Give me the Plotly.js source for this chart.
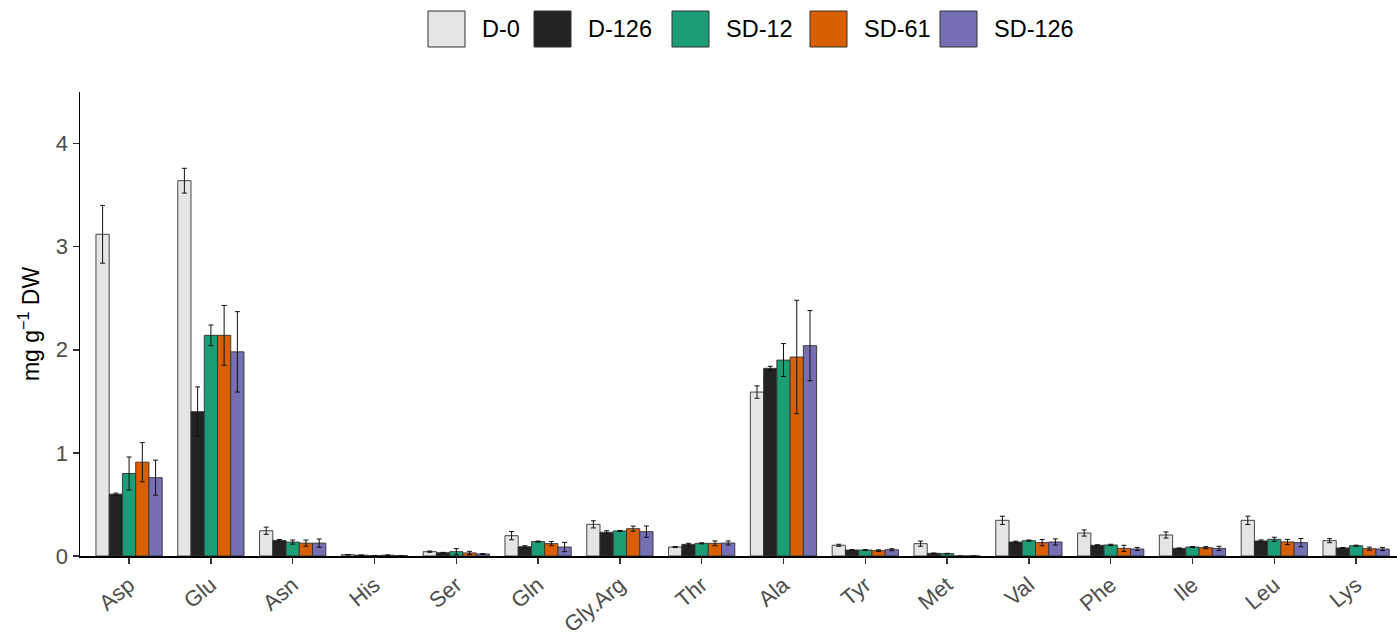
<!DOCTYPE html>
<html>
<head>
<meta charset="utf-8">
<script src="https://cdn.plot.ly/plotly-3.0.1.min.js"></script>
<style>
html,body{margin:0;padding:0;background:#fff;}
#chart{width:1397px;height:637px;}
</style>
</head>
<body>
<div id="chart"></div>
<script>
const categories = ["Asp","Glu","Asn","His","Ser","Gln","Gly.Arg","Thr","Ala","Tyr","Met","Val","Phe","Ile","Leu","Lys"];
const seriesNames = ["D-0","D-126","SD-12","SD-61","SD-126"];

const d0      = [3.12, 3.64, 0.245, 0.012, 0.042, 0.197, 0.307, 0.087, 1.59, 0.104, 0.120, 0.346, 0.223, 0.204, 0.346, 0.149];
const d0Err   = [0.28, 0.12, 0.035, 0.002, 0.006, 0.040, 0.035, 0.005, 0.06, 0.010, 0.025, 0.040, 0.030, 0.030, 0.040, 0.020];
const d126    = [0.60, 1.40, 0.150, 0.008, 0.032, 0.090, 0.230, 0.113, 1.82, 0.058, 0.026, 0.136, 0.104, 0.074, 0.146, 0.078];
const d126Err = [0.01, 0.24, 0.010, 0.001, 0.003, 0.010, 0.015, 0.010, 0.02, 0.004, 0.003, 0.008, 0.005, 0.004, 0.010, 0.004];
const sd12    = [0.80, 2.14, 0.135, 0.004, 0.042, 0.140, 0.243, 0.123, 1.90, 0.058, 0.023, 0.149, 0.107, 0.087, 0.162, 0.100];
const sd12Err = [0.16, 0.10, 0.020, 0.001, 0.030, 0.005, 0.005, 0.005, 0.16, 0.004, 0.003, 0.006, 0.007, 0.005, 0.020, 0.005];
const sd61    = [0.91, 2.14, 0.125, 0.008, 0.030, 0.120, 0.265, 0.123, 1.93, 0.052, 0.0, 0.130, 0.074, 0.081, 0.136, 0.071];
const sd61Err = [0.19, 0.29, 0.030, 0.001, 0.015, 0.020, 0.025, 0.023, 0.55, 0.008, 0.0, 0.030, 0.030, 0.010, 0.025, 0.015];
const sd126   = [0.76, 1.98, 0.125, 0.003, 0.020, 0.087, 0.236, 0.126, 2.04, 0.061, 0.0, 0.136, 0.068, 0.074, 0.130, 0.068];
const sd126Err= [0.17, 0.39, 0.040, 0.001, 0.004, 0.045, 0.055, 0.020, 0.34, 0.010, 0.0, 0.030, 0.015, 0.020, 0.040, 0.015];

const values = [d0, d126, sd12, sd61, sd126];
const errors = [d0Err, d126Err, sd12Err, sd61Err, sd126Err];
const colors = ["#e5e5e5", "#222222", "#1b9e77", "#d95f02", "#7570b3"];

const traces = seriesNames.map((name, i) => ({
  type: "bar",
  name: name,
  x: categories,
  y: values[i],
  marker: {color: colors[i], line: {color: "#333333", width: 0.9}},
  error_y: {type: "data", array: errors[i], visible: true, color: "#111111", thickness: 1, width: 2.5},
  showlegend: false,
  hoverinfo: "x+y+name"
}));

// page geometry
const L = 80, T = 92, R = 0, B = 81;
const W = 1397 - L - R, H = 637 - T - B;
const px2x = p => (p - L) / W;
const py2y = p => (637 - B - p) / H;

// manual legend (large keys)
const legendBoxLeft = [428, 534, 672, 810, 940];
const boxW = 37, boxTop = 11, boxBottom = 47;
const shapes = [];
const annotations = [];
seriesNames.forEach((name, i) => {
  shapes.push({
    type: "rect", xref: "paper", yref: "paper",
    x0: px2x(legendBoxLeft[i]), x1: px2x(legendBoxLeft[i] + boxW),
    y0: py2y(boxBottom), y1: py2y(boxTop),
    fillcolor: colors[i], line: {color: "#333333", width: 1}
  });
  annotations.push({
    xref: "paper", yref: "paper",
    x: px2x(legendBoxLeft[i] + boxW + 15), y: py2y((boxTop + boxBottom) / 2),
    xanchor: "left", yanchor: "middle", showarrow: false,
    text: name, font: {family: "Liberation Sans, Arial, sans-serif", size: 23.5, color: "#000000"}
  });
});

const layout = {
  width: 1397, height: 637,
  margin: {l: L, r: R, t: T, b: B, pad: 0},
  paper_bgcolor: "#ffffff", plot_bgcolor: "#ffffff",
  barmode: "group", bargap: 0.19, bargroupgap: 0,
  font: {family: "Liberation Sans, Arial, sans-serif"},
  xaxis: {
    type: "category",
    range: [-0.6, 15.5],
    showline: true, linecolor: "#000000", linewidth: 1.5,
    ticks: "outside", ticklen: 6, tickwidth: 1.5, tickcolor: "#333333",
    tickangle: -40,
    tickfont: {size: 22, color: "#4d4d4d"},
    showgrid: false, zeroline: false, fixedrange: true
  },
  yaxis: {
    range: [0, 4.5],
    tickvals: [0, 1, 2, 3, 4],
    showline: true, linecolor: "#000000", linewidth: 1.5,
    ticks: "outside", ticklen: 6, tickwidth: 1.5, tickcolor: "#333333",
    tickfont: {size: 22, color: "#4d4d4d"},
    showgrid: false, zeroline: false,
    title: {text: "mg g<sup>\u22121</sup> DW", font: {size: 23, color: "#000000"}, standoff: 10}
  },
  shapes: shapes,
  annotations: annotations,
  showlegend: false
};

Plotly.newPlot("chart", traces, layout, {displayModeBar: false, staticPlot: true});
</script>
</body>
</html>
